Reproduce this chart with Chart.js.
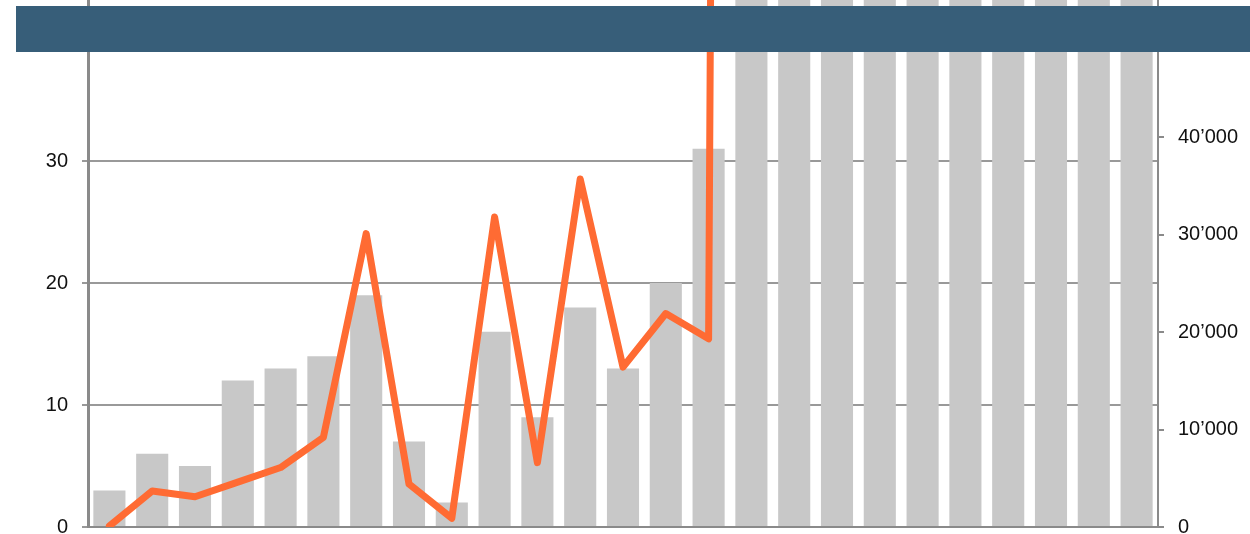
<!DOCTYPE html>
<html>
<head>
<meta charset="utf-8">
<script src="https://cdn.jsdelivr.net/npm/chart.js@4/dist/chart.umd.min.js"></script>
<style>
  html, body { margin: 0; padding: 0; width: 1250px; height: 534px; overflow: hidden; background: #fff; }
  #wrap { position: absolute; left: 0; top: -109px; width: 1250px; height: 662px; }
  #banner { position: absolute; left: 16px; top: 6px; width: 1234px; height: 46px; background: #375e79; z-index: 2; }
</style>
</head>
<body>
<div id="wrap"><canvas id="c"></canvas></div>
<div id="banner"></div>
<script>
const categories = ["1","2","3","4","5","6","7","8","9","10","11","12","13","14","15","16","17","18","19","20","21","22","23","24","25"];
const barValues = [3, 6, 5, 12, 13, 14, 19, 7, 2, 16, 9, 18, 13, 20, 31, 48, 52, 55, 58, 60, 63, 66, 70, 74, 78];
const lineValues = [100, 3700, 3100, 4600, 6100, 9200, 30100, 4400, 900, 31800, 6600, 35700, 16400, 21900, 19300, 780000, 820000, 860000, 900000, 940000, 980000, 1020000, 1060000, 1100000, 1140000];
const leftTicks = [0, 10, 20, 30, 40, 50];
const rightTicks = [0, 10000, 20000, 30000, 40000, 50000, 60000];

function fmt(v) {
  return String(Math.round(v)).replace(/\B(?=(\d{3})+(?!\d))/g, "\u2019");
}

new Chart(document.getElementById('c'), {
  data: {
    labels: categories,
    datasets: [
      {
        type: 'line',
        data: lineValues,
        yAxisID: 'y1',
        borderColor: '#ff6b33',
        borderWidth: 7,
        pointRadius: 0,
        tension: 0,
        borderJoinStyle: 'round',
        borderCapStyle: 'round',
        order: 0
      },
      {
        type: 'bar',
        data: barValues,
        yAxisID: 'y',
        backgroundColor: '#c8c8c8',
        categoryPercentage: 1.0,
        barPercentage: 0.75,
        order: 1
      }
    ]
  },
  options: {
    responsive: true,
    maintainAspectRatio: false,
    animation: false,
    layout: { padding: { top: 15, left: 0, right: 0, bottom: 0 } },
    plugins: { legend: { display: false }, tooltip: { enabled: false } },
    scales: {
      x: {
        grid: { display: false, drawTicks: false },
        border: { display: true, color: '#8a8a8a', width: 2 },
        ticks: { display: false },
        afterFit: s => { s.height = 20; }
      },
      y: {
        position: 'left',
        min: 0,
        max: 50,
        afterBuildTicks: s => { s.ticks = leftTicks.map(v => ({ value: v })); },
        grid: { color: '#999999', lineWidth: 2, tickLength: 6, drawTicks: true },
        border: { display: true, color: '#8a8a8a', width: 3 },
        ticks: { color: '#111', padding: 14, font: { family: 'Liberation Sans, Arial, sans-serif', size: 20 } },
        afterFit: s => { s.width = 88; }
      },
      y1: {
        position: 'right',
        min: 0,
        max: 62575,
        afterBuildTicks: s => { s.ticks = rightTicks.map(v => ({ value: v })); },
        grid: { drawOnChartArea: false, color: '#8a8a8a', lineWidth: 2, tickLength: 6, drawTicks: true },
        border: { display: true, color: '#8a8a8a', width: 2 },
        ticks: { color: '#111', padding: 14, font: { family: 'Liberation Sans, Arial, sans-serif', size: 20 }, callback: v => fmt(v) },
        afterFit: s => { s.width = 92; }
      }
    }
  }
});
</script>
</body>
</html>
